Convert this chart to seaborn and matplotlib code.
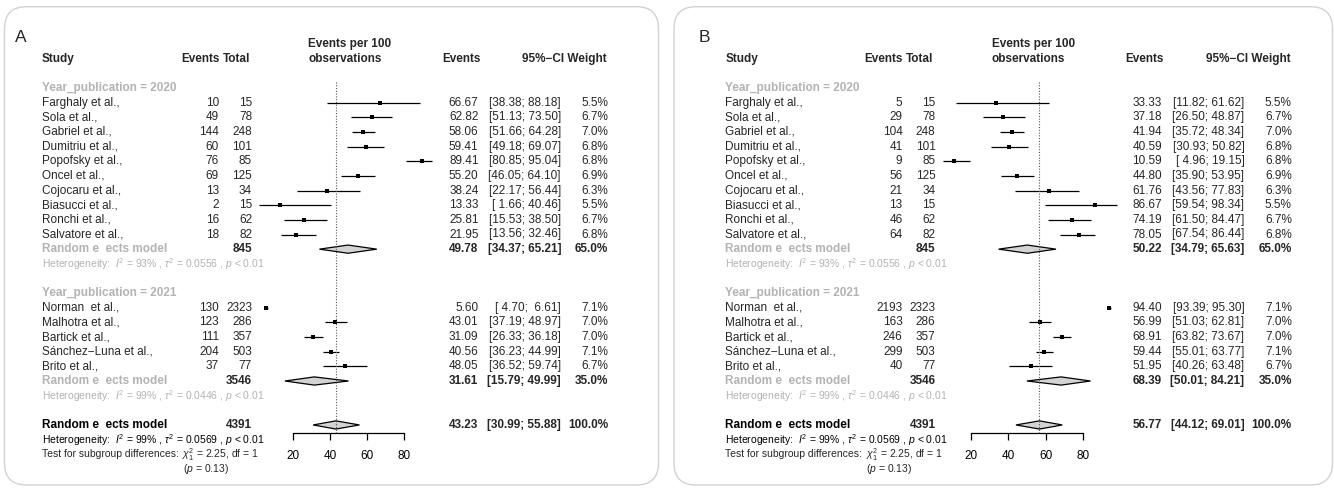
import matplotlib
matplotlib.use("Agg")
import numpy as np
import pandas as pd
import matplotlib.pyplot as plt
import seaborn as sns
from matplotlib.patches import FancyBboxPatch, Polygon
from matplotlib.transforms import blended_transform_factory, IdentityTransform

# study labels
studies_2020 = ["Farghaly et al.,", "Sola et al.,", "Gabriel et al.,", "Dumitriu et al.,",
                "Popofsky et al.,", "Oncel et al.,", "Cojocaru et al.,", "Biasucci et al.,",
                "Ronchi et al.,", "Salvatore et al.,"]
studies_2021 = ["Norman  et al.,", "Malhotra et al.,", "Bartick et al.,",
                "Sánchez\u2212Luna et al.,", "Brito et al.,"]
total_2020 = [15, 78, 248, 101, 85, 125, 34, 15, 62, 82]
total_2021 = [2323, 286, 357, 503, 77]
weight_2020 = [5.5, 6.7, 7.0, 6.8, 6.8, 6.9, 6.3, 5.5, 6.7, 6.8]
weight_2021 = [7.1, 7.0, 7.0, 7.1, 6.7]
axis_ticks = [20, 40, 60, 80]

# panel A
events_a_2020 = [10, 49, 144, 60, 76, 69, 13, 2, 16, 18]
rate_a_2020 = [66.67, 62.82, 58.06, 59.41, 89.41, 55.20, 38.24, 13.33, 25.81, 21.95]
lo_a_2020 = [38.38, 51.13, 51.66, 49.18, 80.85, 46.05, 22.17, 1.66, 15.53, 13.56]
hi_a_2020 = [88.18, 73.50, 64.28, 69.07, 95.04, 64.10, 56.44, 40.46, 38.50, 32.46]
events_a_2021 = [130, 123, 111, 204, 37]
rate_a_2021 = [5.60, 43.01, 31.09, 40.56, 48.05]
lo_a_2021 = [4.70, 37.19, 26.33, 36.23, 36.52]
hi_a_2021 = [6.61, 48.97, 36.18, 44.99, 59.74]
pooled_a = [(49.78, 34.37, 65.21), (31.61, 15.79, 49.99), (43.23, 30.99, 55.88)]

# panel B
events_b_2020 = [5, 29, 104, 41, 9, 56, 21, 13, 46, 64]
rate_b_2020 = [33.33, 37.18, 41.94, 40.59, 10.59, 44.80, 61.76, 86.67, 74.19, 78.05]
lo_b_2020 = [11.82, 26.50, 35.72, 30.93, 4.96, 35.90, 43.56, 59.54, 61.50, 67.54]
hi_b_2020 = [61.62, 48.87, 48.34, 50.82, 19.15, 53.95, 77.83, 98.34, 84.47, 86.44]
events_b_2021 = [2193, 163, 246, 299, 40]
rate_b_2021 = [94.40, 56.99, 68.91, 59.44, 51.95]
lo_b_2021 = [93.39, 51.03, 63.82, 55.01, 40.26]
hi_b_2021 = [95.30, 62.81, 73.67, 63.77, 63.48]
pooled_b = [(50.22, 34.79, 65.63), (68.39, 50.01, 84.21), (56.77, 44.12, 69.01)]

group_labels = ["Year_publication = 2020", "Year_publication = 2021"]
pooled_totals = [845, 3546, 4391]
pooled_weights = ["65.0%", "35.0%", "100.0%"]
het_text = [r"Heterogeneity:  $I^2$ = 93% , $\tau^2$ = 0.0556 , $p$ < 0.01",
            r"Heterogeneity:  $I^2$ = 99% , $\tau^2$ = 0.0446 , $p$ < 0.01",
            r"Heterogeneity:  $I^2$ = 99% , $\tau^2$ = 0.0569 , $p$ < 0.01"]
model_label = "Random e  ects model"

sns.set_theme(style="white")
plt.rcParams['font.family'] = ['Liberation Sans', 'DejaVu Sans']
plt.rcParams['mathtext.fontset'] = 'custom'
plt.rcParams['mathtext.rm'] = 'Liberation Sans'
plt.rcParams['mathtext.it'] = 'Liberation Sans:italic'
plt.rcParams['mathtext.bf'] = 'Liberation Sans:bold'

W, H = 1334, 488
fig = plt.figure(figsize=(W / 100, H / 100), dpi=100)

ROW0, STEP = 88.0, 14.65       # pixel y of first row, row spacing
AXIS_Y = 433.3
GRAY = '#b3b3b3'
FS = 8.5
FS_SMALL = 7.5


def draw_panel(letter, dx, plot_left, ev20, rt20, lo20, hi20, ev21, rt21, lo21, hi21, pooled):
    ax = fig.add_axes([plot_left / W, 1 - AXIS_Y / H, 186 / W, AXIS_Y / H])
    ax.patch.set_alpha(0)
    for s in ['top', 'left', 'right']:
        ax.spines[s].set_visible(False)

    rows20 = list(range(1, 11))
    rows21 = list(range(15, 20))
    df = pd.DataFrame({
        'row': rows20 + rows21,
        'rate': rt20 + rt21,
        'lo': lo20 + lo21,
        'hi': hi20 + hi21,
    })
    ax.hlines(df['row'], df['lo'], df['hi'], color='black', lw=0.9, clip_on=False)
    sns.scatterplot(data=df, x='rate', y='row', marker='s', color='black', s=6,
                    linewidth=0, ax=ax, clip_on=False, legend=False)
    ax.set_xlabel('')
    ax.set_ylabel('')
    ax.set_xlim(0, 100)
    ax.set_ylim((AXIS_Y - ROW0) / STEP, -ROW0 / STEP)
    ax.spines['bottom'].set_bounds(axis_ticks[0], axis_ticks[-1])
    ax.spines['bottom'].set_color('black')
    ax.spines['bottom'].set_linewidth(0.9)
    ax.set_xticks(axis_ticks)
    ax.set_yticks([])
    ax.tick_params(axis='x', direction='out', length=5, width=0.9, pad=7,
                   labelsize=FS, colors='black', bottom=True)

    pooled_rows = [11, 20, 23]
    h = 0.28
    for (est, lo, hi), r in zip(pooled, pooled_rows):
        ax.add_patch(Polygon([(lo, r), (est, r - h), (hi, r), (est, r + h)],
                             closed=True, facecolor='#d3d3d3', edgecolor='black',
                             lw=0.9, clip_on=False))
    ax.vlines(pooled[2][0], -0.43, (AXIS_Y - ROW0) / STEP, color='#555555',
              lw=0.8, linestyles=(0, (1, 1.5)))

    T = blended_transform_factory(fig.transFigure, ax.transData)

    def txt(px, row, s, ha='left', **kw):
        kw.setdefault('fontsize', FS)
        ax.text((px + dx) / W, row, s, transform=T, ha=ha, va='center', **kw)

    txt(15, -3.45, letter, fontsize=12.5)
    txt(41.7, -2, "Study", weight='bold')
    txt(219.3, -2, "Events", ha='right', weight='bold')
    txt(250, -2, "Total", ha='right', weight='bold')
    txt(308.3, -3, "Events per 100", weight='bold')
    txt(308.3, -2, "observations", weight='bold')
    txt(480.5, -2, "Events", ha='right', weight='bold')
    txt(607, -2, "95%\u2212CI Weight", ha='right', weight='bold')

    groups = [(0, studies_2020, ev20, total_2020, rt20, lo20, hi20, weight_2020),
              (14, studies_2021, ev21, total_2021, rt21, lo21, hi21, weight_2021)]
    for gi, (g0, names, ev, tot, rt, lo, hi, wt) in enumerate(groups):
        txt(41.7, g0, group_labels[gi], color=GRAY, weight='bold')
        for i in range(len(names)):
            r = g0 + 1 + i
            txt(41.7, r, names[i])
            txt(219, r, str(ev[i]), ha='right')
            txt(252, r, str(tot[i]), ha='right')
            txt(478.5, r, f"{rt[i]:.2f}", ha='right')
            txt(561, r, f"[{lo[i]:5.2f}; {hi[i]:5.2f}]", ha='right')
            txt(608.3, r, f"{wt[i]:.1f}%", ha='right')

    for k, r in enumerate(pooled_rows):
        est, lo, hi = pooled[k]
        col = GRAY if k < 2 else 'black'
        txt(41.7, r, model_label, color=col, weight='bold')
        txt(252, r, str(pooled_totals[k]), ha='right', weight='bold')
        txt(478.5, r, f"{est:.2f}", ha='right', weight='bold')
        txt(561, r, f"[{lo:5.2f}; {hi:5.2f}]", ha='right', weight='bold')
        txt(608.3, r, pooled_weights[k], ha='right', weight='bold')
        txt(41.7, r + 1, het_text[k], color=col, fontsize=FS_SMALL)

    txt(41.7, 25, "Test for subgroup differences:", fontsize=FS_SMALL)
    txt(182.3, 25, r"$\chi^2_1$ = 2.25, df = 1", fontsize=FS_SMALL)
    txt(182.7, 26, r"($p$ = 0.13)", fontsize=FS_SMALL)
    return ax


draw_panel("A", 0, 292.7 - 20 * 1.86,
           events_a_2020, rate_a_2020, lo_a_2020, hi_a_2020,
           events_a_2021, rate_a_2021, lo_a_2021, hi_a_2021, pooled_a)
draw_panel("B", 683.5, 971 - 20 * 1.855,
           events_b_2020, rate_b_2020, lo_b_2020, hi_b_2020,
           events_b_2021, rate_b_2021, lo_b_2021, hi_b_2021, pooled_b)

# rounded panel frames (pixel coordinates)
for x0, x1 in [(4.5, 658.5), (674.0, 1332.5)]:
    frame = FancyBboxPatch((x0, 3.0), x1 - x0, 478.3,
                           boxstyle="round,pad=0,rounding_size=22",
                           transform=IdentityTransform(), facecolor='none',
                           edgecolor='#d2d2d2', lw=1.0)
    fig.add_artist(frame)

fig.savefig("out.png", dpi=100)
